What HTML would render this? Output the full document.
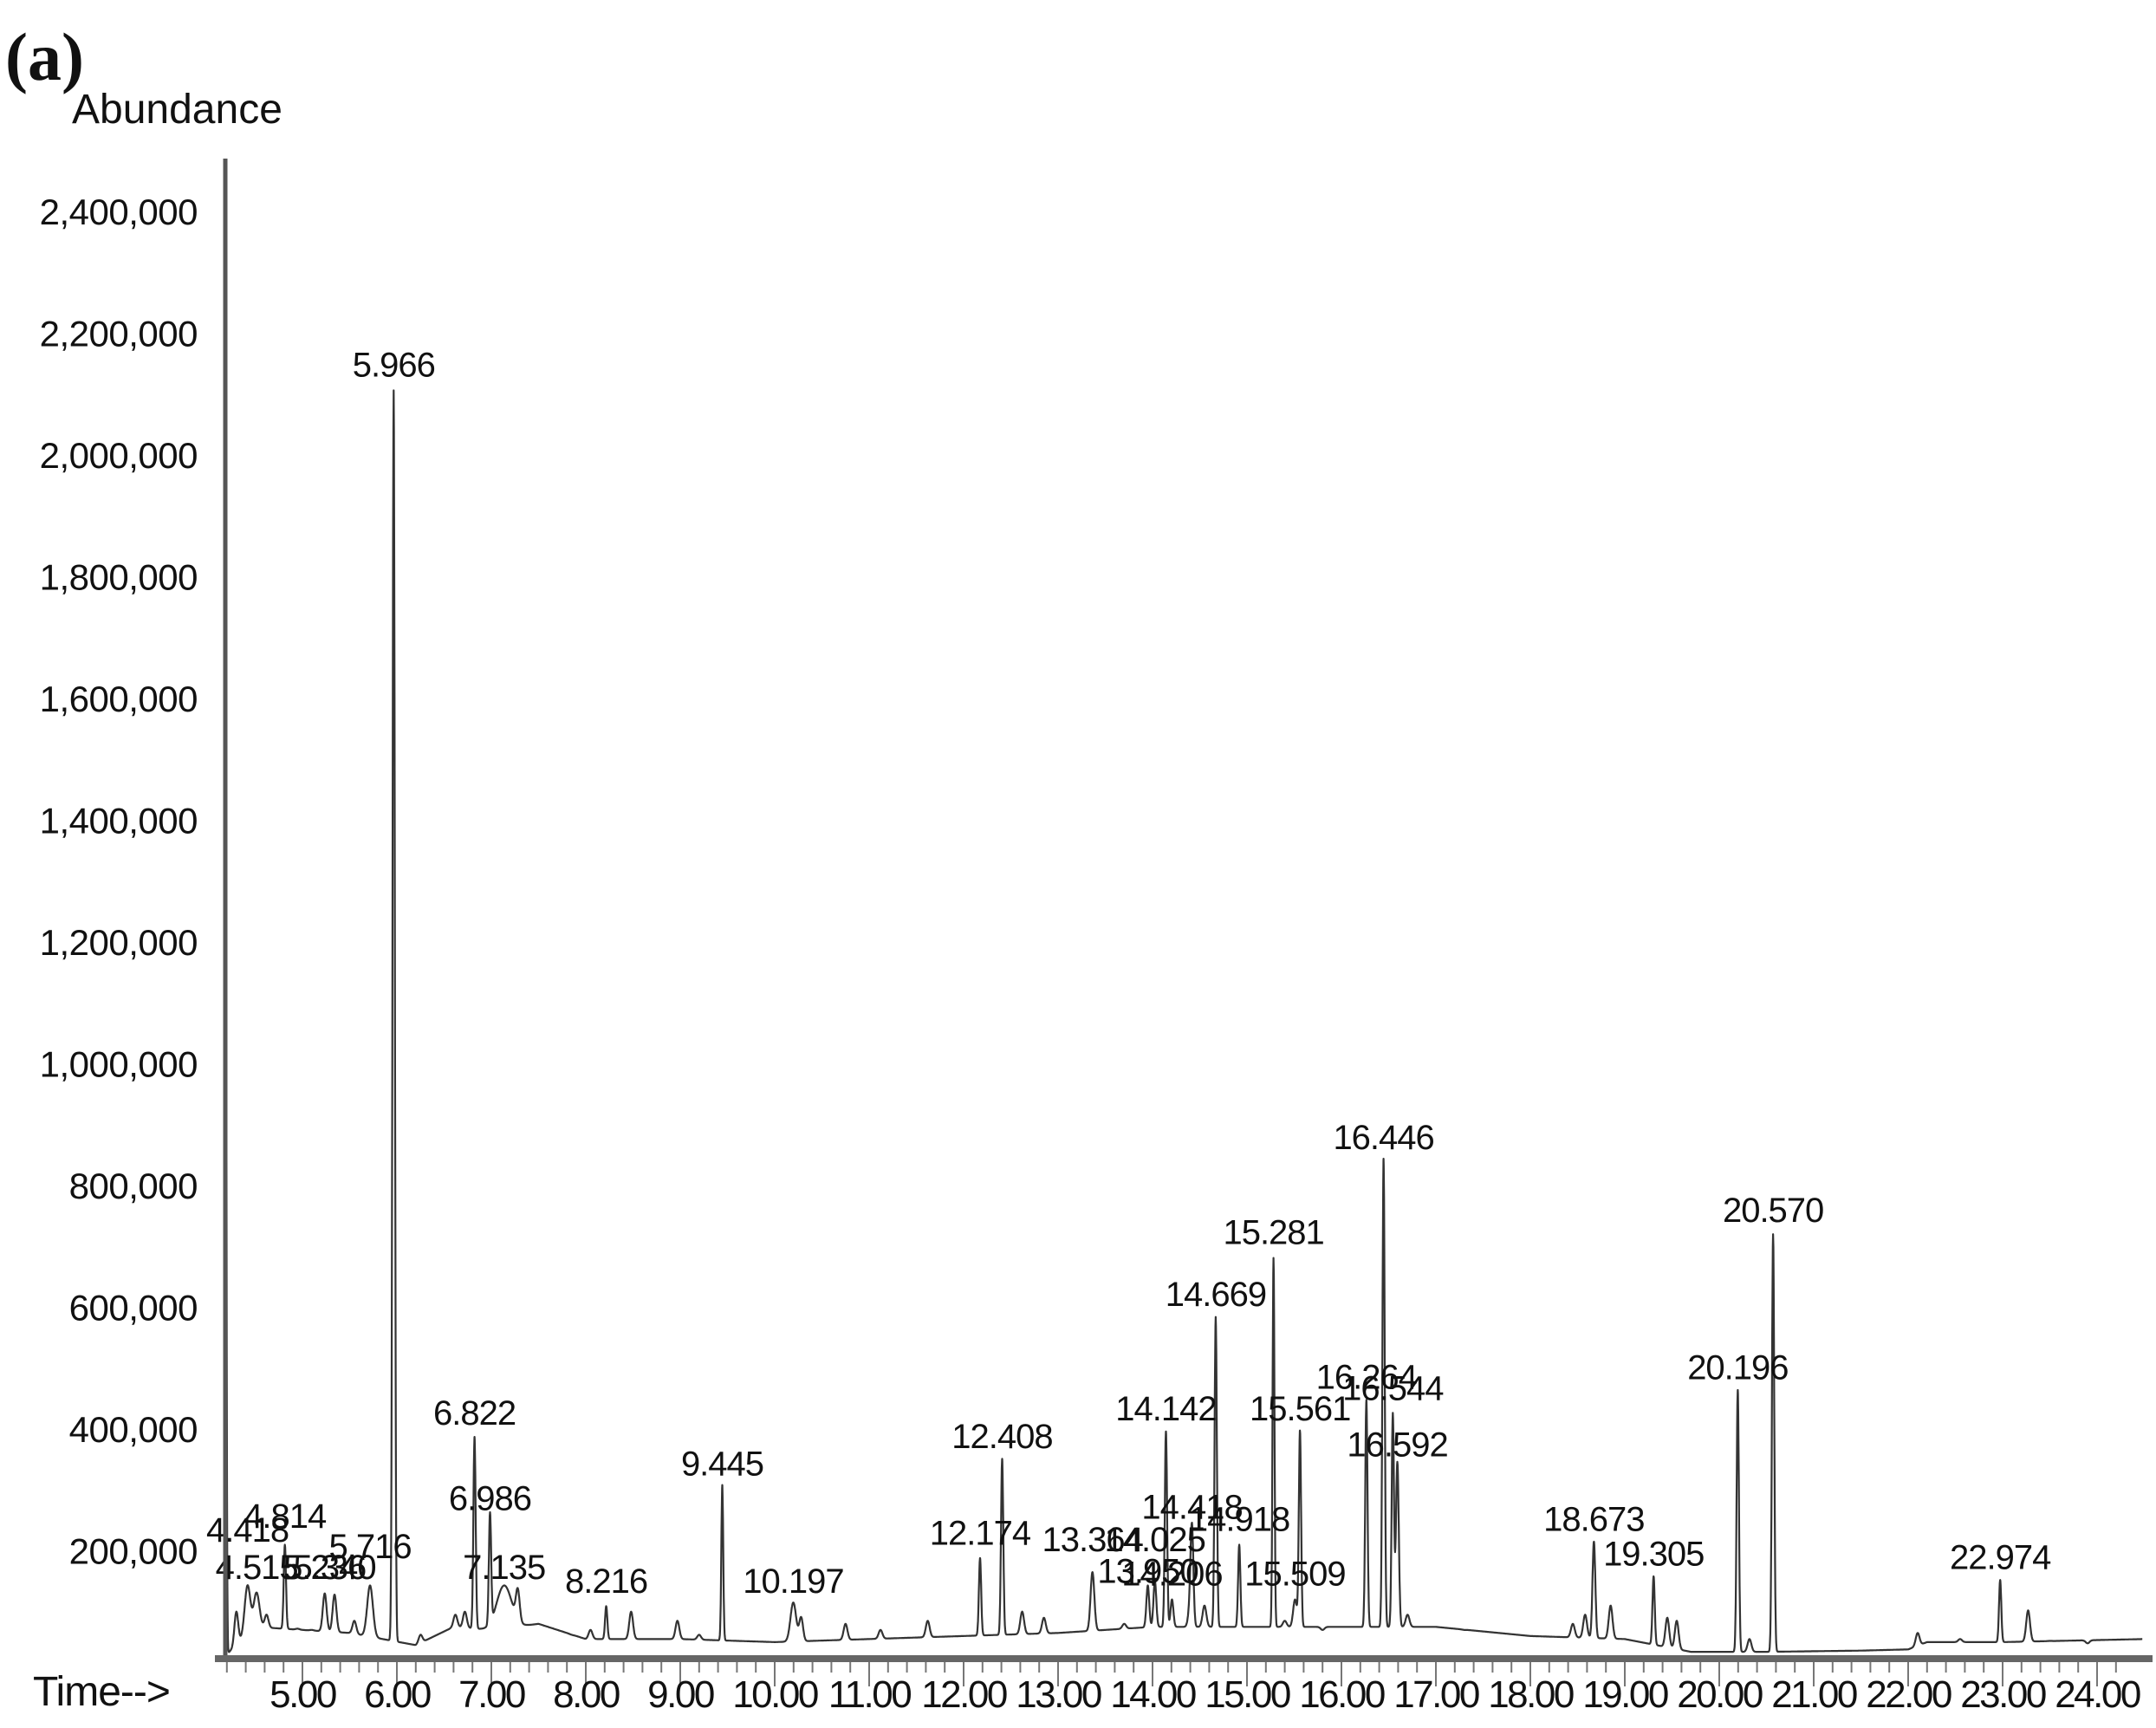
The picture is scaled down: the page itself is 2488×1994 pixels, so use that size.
<!DOCTYPE html>
<html><head><meta charset="utf-8">
<style>
html,body{margin:0;padding:0;background:#fff;}
svg{display:block;}
text{font-family:"Liberation Sans",Arial,sans-serif;fill:#111;}
</style></head>
<body>
<svg id="chart" width="2488" height="1994" viewBox="0 0 2488 1994" xmlns="http://www.w3.org/2000/svg">
  <defs><clipPath id="plotclip"><rect x="262" y="183" width="2226" height="1730"/></clipPath></defs>
  <text x="6" y="92" style="font-family:'Liberation Serif',serif;font-weight:bold;font-size:78px">(a)</text>
  <text x="83" y="142" font-size="48">Abundance</text>
  <text x="38" y="1968" font-size="48" letter-spacing="-1">Time--&gt;</text>
  <g id="yticks"></g>
  <g id="xticks"></g>
  <g id="trace" clip-path="url(#plotclip)"></g>
  <g id="labels"></g>
  <line x1="260" y1="183" x2="260" y2="1916" stroke="#555" stroke-width="5"/>
  <line x1="248" y1="1914" x2="2484" y2="1914" stroke="#666" stroke-width="8"/>
</svg>
<script>
const yTickValues = [200000,400000,600000,800000,1000000,1200000,1400000,1600000,1800000,2000000,2200000,2400000];
const xTickValues = [5,6,7,8,9,10,11,12,13,14,15,16,17,18,19,20,21,22,23,24];
const peakTimes   = [4.18,4.418,4.515,4.814,5.236,5.340,5.716,5.966,6.822,6.986,7.135,8.216,9.445,10.197,12.174,12.408,13.364,13.950,14.025,14.142,14.206,14.418,14.669,14.918,15.281,15.509,15.561,16.264,16.446,16.544,16.592,18.673,19.305,20.196,20.570,22.974];
const peakHeights = [3000000,143000,131000,210000,130000,128000,143000,2106000,387000,251000,143000,109000,308000,115000,188000,351000,165000,143000,150000,396000,120000,222000,584000,210000,681000,120000,396000,448000,844000,425000,346000,215000,158000,464000,720000,152000];
const peakLabels  = ["","4.418","4.515","4.814","5.236","5.340","5.716","5.966","6.822","6.986","7.135","8.216","9.445","10.197","12.174","12.408","13.364","13.950","14.025","14.142","14.206","14.418","14.669","14.918","15.281","15.509","15.561","16.264","16.446","16.544","16.592","18.673","19.305","20.196","20.570","22.974"];
const labelLevels = [0,215000,154000,238000,154000,154000,188000,2129000,407000,267000,154000,131000,324000,131000,210000,369000,199000,147000,199000,414000,143000,253000,602000,233000,704000,143000,414000,466000,860000,448000,355000,233000,176000,482000,740000,170000];
const peakWidths  = [0.01,0.03,0.03,0.012,0.02,0.02,0.03,0.012,0.012,0.012,0.08,0.012,0.01,0.03,0.012,0.012,0.02,0.015,0.015,0.012,0.015,0.015,0.012,0.012,0.01,0.02,0.012,0.012,0.012,0.012,0.015,0.015,0.012,0.012,0.012,0.012];
const minorTimes   = [4.30,4.62,4.95,5.10,5.55,6.25,6.62,6.72,7.28,7.85,8.05,8.48,8.97,9.20,10.28,10.75,11.12,11.62,12.62,12.85,13.70,14.40,14.55,15.40,15.80,16.70,17.00,17.30,18.45,18.58,18.85,19.45,19.55,20.32,22.10,22.55,22.85,23.27,23.50,23.90];
const minorHeights = [100000,95000,72000,70000,85000,62000,95000,100000,125000,62000,70000,100000,85000,62000,90000,80000,70000,85000,100000,90000,80000,110000,110000,85000,70000,95000,75000,70000,80000,95000,110000,90000,85000,55000,65000,55000,50000,102000,52000,48000];
const baseTimes  = [4.2,4.5,5.0,5.5,6.2,6.6,7.0,7.5,8.0,9.0,10.0,11.0,12.0,13.0,13.5,14.0,15.0,16.0,17.0,18.0,19.0,19.7,20.5,21.5,22.0,22.2,23.0,24.5];
const baseValues = [30000,75000,70000,65000,45000,75000,70000,80000,55000,55000,50000,55000,60000,65000,70000,75000,75000,75000,75000,60000,55000,34000,34000,36000,38000,50000,50000,55000];

const NS = "http://www.w3.org/2000/svg";
const xScale = t => 349 + (t - 5) * 109.0;
const yScale = v => 1930 - v * 0.0007025;
function mk(tag, attrs){ const e=document.createElementNS(NS,tag); for(const k in attrs) e.setAttribute(k,attrs[k]); return e; }

const yg = document.getElementById('yticks');
yTickValues.forEach(v=>{
  const t = mk('text',{x:228,y:yScale(v)+15,'font-size':42,'text-anchor':'end','letter-spacing':'-0.5'});
  t.textContent = v.toLocaleString('en-US');
  
  
  yg.appendChild(t);
});
const xg = document.getElementById('xticks');
for(let i=0;i<=100;i++){
  const t = 4.2 + i*0.2;
  if (t > 24.45) break;
  const major = Math.abs(t - Math.round(t)) < 0.01;
  const l = mk('line',{x1:xScale(t),x2:xScale(t),y1:1918,y2:major?1946:1930,stroke:'#777','stroke-width':2});
  
  
  xg.appendChild(l);
}
xTickValues.forEach(v=>{
  const t = mk('text',{x:xScale(v),y:1970,'font-size':44,'text-anchor':'middle','letter-spacing':'-2.5'});
  t.textContent = v.toFixed(2);
  
  
  xg.appendChild(t);
});

function baseAt(t){
  if (t<=baseTimes[0]) return baseValues[0];
  for(let i=1;i<baseTimes.length;i++){
    if (t<=baseTimes[i]){ const f=(t-baseTimes[i-1])/(baseTimes[i]-baseTimes[i-1]); return baseValues[i-1]+f*(baseValues[i]-baseValues[i-1]); }
  }
  return baseValues[baseValues.length-1];
}
function signal(t){
  let v = baseAt(t);
  for(let i=0;i<peakTimes.length;i++){
    const d=(t-peakTimes[i])/peakWidths[i];
    if (Math.abs(d)<6) v += (peakHeights[i]-baseAt(peakTimes[i]))*Math.exp(-0.5*d*d);
  }
  for(let i=0;i<minorTimes.length;i++){
    const d=(t-minorTimes[i])/0.02;
    if (Math.abs(d)<6) v += (minorHeights[i]-baseAt(minorTimes[i]))*Math.exp(-0.5*d*d);
  }
  return v;
}
const times = [];
for(let t=4.16;t<=24.48;t+=0.003) times.push(t);
peakTimes.forEach(p=>times.push(p));
times.sort((a,b)=>a-b);
let d='';
times.forEach((t,i)=>{ d += (i?'L':'M') + xScale(t).toFixed(1) + ' ' + yScale(signal(t)).toFixed(1); });
const path = mk('path',{d:d,fill:'none',stroke:'#333','stroke-width':2.2,'stroke-linejoin':'round'});


document.getElementById('trace').appendChild(path);

const lg = document.getElementById('labels');
peakLabels.forEach((s,i)=>{
  if(!s) return;
  const t = mk('text',{x:xScale(peakTimes[i]),y:yScale(labelLevels[i]),'font-size':40,'text-anchor':'middle','letter-spacing':'-1'});
  t.textContent = s;
  
  
  lg.appendChild(t);
});
</script>
</body></html>
